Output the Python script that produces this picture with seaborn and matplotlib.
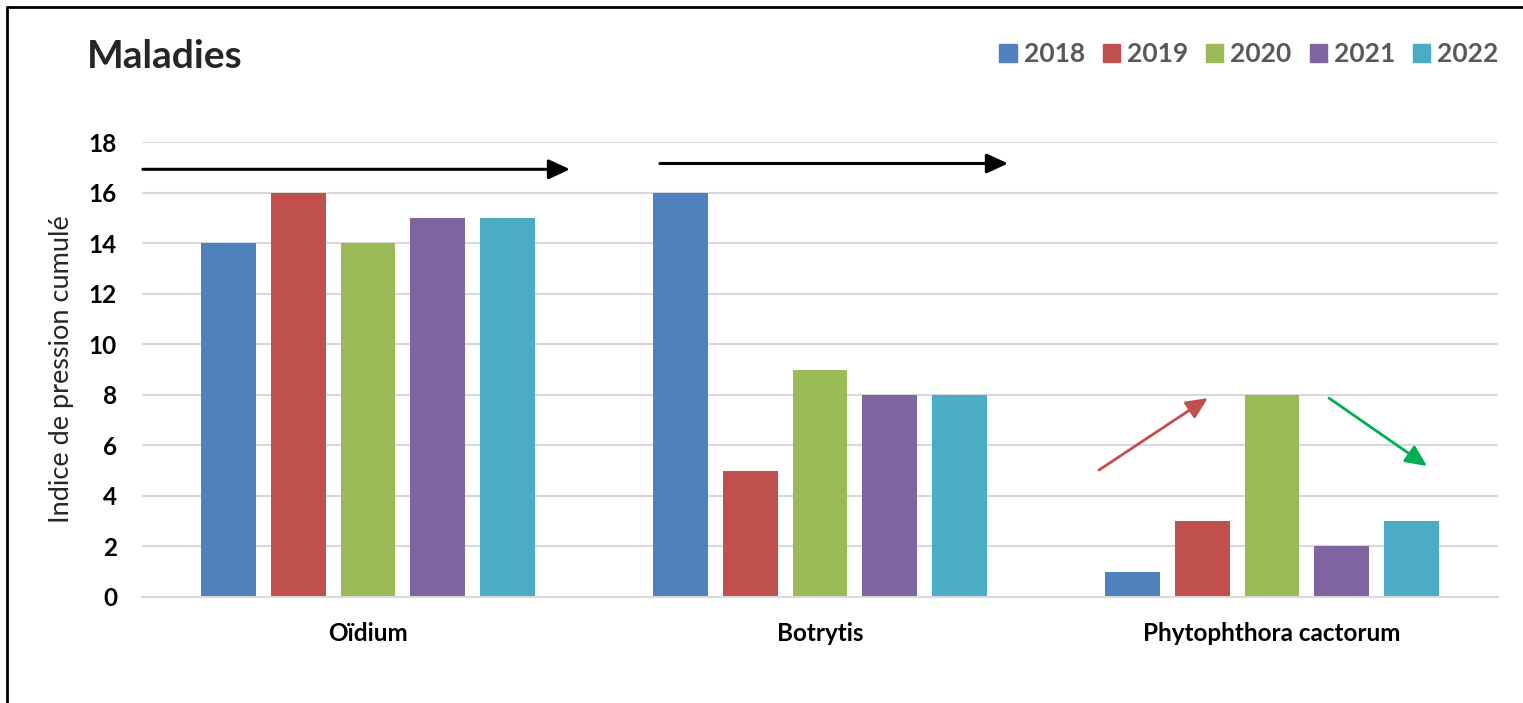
import matplotlib
matplotlib.use("Agg")
import matplotlib.pyplot as plt
import seaborn as sns
import pandas as pd
from matplotlib.lines import Line2D
from matplotlib.patches import FancyArrowPatch

categories = ["Oïdium", "Botrytis", "Phytophthora cactorum"]
years = ["2018", "2019", "2020", "2021", "2022"]
v2018 = [14, 16, 1]
v2019 = [16, 5, 3]
v2020 = [14, 9, 8]
v2021 = [15, 8, 2]
v2022 = [15, 8, 3]
colors = ["#4F81BD", "#C0504D", "#9BBB59", "#8064A2", "#4BACC6"]

series = [v2018, v2019, v2020, v2021, v2022]
rows = []
for y, vals in zip(years, series):
    for c, v in zip(categories, vals):
        rows.append({"cat": c, "year": y, "val": v})
df = pd.DataFrame(rows)

sns.set_theme(style="white")
plt.rcParams["font.family"] = ["Lato", "DejaVu Sans"]

fig = plt.figure(figsize=(15.23, 7.03), dpi=100)
ax = fig.add_axes([142/1523, 1-597/703, (1498-142)/1523, (597-142)/703])

sns.barplot(data=df, x="cat", y="val", hue="year", palette=colors,
            width=0.77, gap=0.21, ax=ax, legend=False, saturation=1,
            linewidth=0, edgecolor="none")

ax.set_ylim(0, 18)
ax.set_xlim(-0.5, 2.5)
ax.set_yticks(range(0, 19, 2))
ax.yaxis.grid(True, color="#D9D9D9", linewidth=1.5)
ax.set_axisbelow(True)
for s in ["top", "right", "left"]:
    ax.spines[s].set_visible(False)
ax.spines["bottom"].set_color("#D9D9D9")
ax.spines["bottom"].set_linewidth(1.5)
ax.tick_params(axis="both", length=0, labelsize=17.5, colors="black")
ax.tick_params(axis="y", pad=18)
ax.tick_params(axis="x", pad=18)
for lab in ax.get_xticklabels() + ax.get_yticklabels():
    lab.set_fontweight("bold")
ax.set_xlabel("")
ax.set_ylabel("Indice de pression cumulé", fontsize=19.5)
ax.yaxis.set_label_coords(-0.050, 0.5)

# trend arrows
arrows = [
    ((-0.498, 16.92), (0.447, 16.92), "black", 2.2),
    ((0.646, 17.15), (1.416, 17.15), "black", 2.2),
    ((1.617, 5.02), (1.858, 7.87), "#C0504D", 2.0),
    ((2.126, 7.87), (2.343, 5.18), "#00B050", 2.0),
]
for start, end, col, lw in arrows:
    ax.add_patch(FancyArrowPatch(start, end, arrowstyle="-|>,head_length=13,head_width=6",
                                 color=col, linewidth=lw, mutation_scale=1,
                                 shrinkA=0, shrinkB=0, clip_on=False))

fig.text(87/1523, 1-57/703, "Maladies", fontsize=28, fontweight="bold",
         va="center", ha="left")

handles = [plt.Rectangle((0, 0), 1, 1, color=c) for c in colors]
leg = fig.legend(handles, years, loc="center right", bbox_to_anchor=(1512/1523, 1-54/703),
                 ncol=5, frameon=False, handlelength=0.65, handleheight=0.65,
                 handletextpad=0.27, columnspacing=0.68, borderpad=0,
                 prop={"size": 19, "weight": "bold"})
for t in leg.get_texts():
    t.set_color("#595959")

fig.add_artist(Line2D([7/1523, 7/1523], [0, 1-7/703], color="black", linewidth=2))
fig.add_artist(Line2D([7/1523, 1], [1-7/703, 1-7/703], color="black", linewidth=2))

fig.savefig("out.png", dpi=100, facecolor="white")
